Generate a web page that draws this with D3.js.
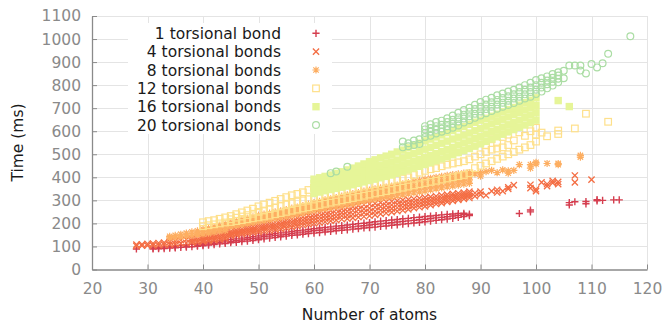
<!DOCTYPE html>
<html><head><meta charset="utf-8">
<script src="https://cdn.jsdelivr.net/npm/d3@7"></script>
<style>body{margin:0;background:#fff}svg{display:block;font-family:"DejaVu Sans",sans-serif}</style>
</head><body><svg width="665" height="325"></svg>
<script>
const xTicks = [20,30,40,50,60,70,80,90,100,110,120];
const yTicks = [0,100,200,300,400,500,600,700,800,900,1000,1100];
const seriesNames = ["1 torsional bond","4 torsional bonds","8 torsional bonds","12 torsional bonds","16 torsional bonds","20 torsional bonds"];
// rows: [atoms, time(ms), time(ms), ...]
const bond1 = [
[28,89],[31,89,93],[32,90,95],[33,91,97],[34,93,99],[35,94,101,97],[36,96,104],[37,97,106,101],[38,99,109],[39,101,112,105],
[40,103,115,108],[41,106,118,111],[42,108,121,114],[43,111,124,117],[44,113,127,120],[45,116,130,122],[46,118,133,125],[47,121,136,128],[48,123,139,131],[49,126,142,134],
[50,129,146,137],[51,133,150,142],[52,136,153,145],[53,139,156,148],[54,142,159,150],[55,145,162,153],[56,148,165,156],[57,150,168,159],[58,153,171,162],[59,156,174,165],
[60,158,177,168],[61,160,180,170],[62,163,182,172],[63,165,185,175],[64,168,188,178],[65,170,190,180],[66,172,193,183],[67,175,196,185],[68,177,199,188],[69,180,201,190],
[70,182,204,193],[71,184,207,196],[72,187,210,198],[73,189,212,201],[74,192,215,203],[75,194,217,206],[76,197,220,208],[77,199,222,211],[78,202,225,213],[79,204,227,216],
[80,207,230,218],[81,210,232,221],[82,213,234,224],[83,216,237,226],[84,219,239,229],[85,222,241,232],[86,226,243,235],[87,230,244,238],[88,234,240],
[97,243],[99,250,258],[106,280,290],[107,294],[109,285,295],[111,298,303],[112,300],[114,302],[115,302]
];
const bond4 = [
[28,102,108],[29,103,109],[30,104,111],[31,105,113],[32,106,115],[33,108,117],[34,109,120],[35,111,123],[36,113,127],[37,115,130],
[38,117,134,125],[39,119,138,128],[40,121,128,135,142],[41,124,131,139,146],[42,127,135,143,151],[43,130,139,147,156],[44,134,143,152,161],
[45,146,152,159,166],[46,150,156,163,171],[47,153,160,167,176],[48,156,164,172,181],[49,160,168,176,186],[50,163,172,182,192],[51,166,176,185,196],
[52,169,179,189,200],[53,173,183,193,205],[54,176,187,197,209],[55,180,191,201,213],[56,184,195,206,218],[57,188,199,210,223],[58,192,203,215,228],
[59,196,208,220,234],[60,200,213,226,240],[61,203,217,230,245],[62,207,221,235,250],[63,211,225,240,255],[64,214,229,243,259],[65,218,233,247,263],
[66,221,236,252,268],[67,224,240,256,272],[68,227,243,260,277],[69,230,247,263,281],[70,233,250,266,284],[71,237,253,270,287],[72,241,257,273,290],
[73,245,261,277,293],[74,249,264,280,296],[75,253,268,283,298],[76,257,271,286,301],[77,261,275,289,303],[78,266,279,292,306],[79,270,283,295,309],
[80,274,287,299,312],[81,279,291,302,315],[82,284,295,306,318],[83,288,299,310,322],[84,293,303,314,325],[85,298,308,318,328],[86,302,312,321,331],
[87,306,316,325,334],[88,310,319,328,338],
[89,318,332],[90,325,338],[91,322],[92,340],[93,334,346],[94,340],[95,350,357],[96,366],[99,353,368],[100,340,348],
[101,378],[102,362,371],[103,385,376],[104,380,370],[107,408,378],[110,390]
];
const bond8 = [
[34,137,144],[35,139,148],[36,142,153],[37,145,158],[38,148,163],[39,151,168,158],[40,154,175,164],[41,158,180,168],[42,162,186,173],[43,166,192,178],[44,170,198,184],
[45,186,192,198,204],[46,190,197,203,210],[47,194,201,209,216],[48,199,206,214,222],[49,203,211,220,228],[50,208,217,226,236],[51,212,221,231,240],
[52,216,226,235,245],[53,221,230,240,250],[54,225,235,245,255],[55,229,239,250,260],[56,234,245,255,266],[57,239,250,260,271],[58,244,255,266,277],
[59,250,261,273,284],[60,256,267,279,290],[61,260,272,284,296],[62,264,277,289,302],[63,268,281,294,307],[64,272,285,299,312],[65,276,290,304,318],
[66,280,295,309,324],[67,285,300,314,329],[68,290,305,319,334],[69,296,310,325,340],[70,301,315,330,345],[71,304,319,334,350],[72,308,323,338,354],
[73,312,327,342,358],[74,316,331,346,362],[75,320,335,350,366],[76,324,340,356,372],[77,328,344,360,377],[78,332,349,365,382],[79,336,353,370,387],
[80,340,357,374,392],[81,345,362,379,396],[82,350,366,383,400],[83,354,371,387,404],[84,358,375,391,408],[85,362,379,395,412],[86,366,382,398,415],
[87,370,386,402,418],[88,374,389,404,420],
[89,415],[90,420,405],[91,425],[92,430],[93,420],[94,432],[95,428,418],[96,430],[97,455],[99,455,440],[100,465,458],[102,460],[104,460,455],[108,488,495]
];
const bond12 = [
[40,188,205],[41,192,210],[42,196,214],[43,200,220],[44,204,226],[45,206,232,218],[46,210,240,225],[47,214,248,230],[48,218,256,236],[49,222,264,242],
[50,226,274,250],[51,230,282,256],[52,234,290,262],[53,240,298,268],[54,245,306,275],[55,250,314,282],[56,255,322,288],[57,260,328,295],[58,265,335,300],[59,270,345,305],
[60,275,355,312],[61,280,360,318],[62,285,365,325],[63,290,370,330],[64,295,375,335],[65,300,380,340],[66,305,386,345],[67,310,392,350],[68,315,397,356],[69,320,402,360],
[70,325,406,365],[71,330,410,370],[72,335,414,375],[73,340,418,380],[74,345,422,385],[75,350,428,390],[76,355,440,395],[77,360,450,400],[78,365,460,410],[79,370,470,420],
[80,375,480,428],[81,380,488,435],[82,385,495,440],[83,390,502,448],[84,395,510,455],[85,400,518,460],[86,405,525,465],[87,410,532,470],[88,418,538,478],[89,440,545,490],
[90,450,555,500],[91,460,540,510],[92,470,565,520],[93,480,550,525],[94,490,575,530],[95,500,585,540],[96,510,560],[97,520,595],[98,530,580],[99,540,600],
[100,555,615,585],[101,594],[102,578],[104,588,603],[107,612],[109,676],[113,641]
];
const bond16 = [
[60,330,352,372,392],[61,336,358,378,398],[62,342,364,384,404],[63,347,369,390,410],[64,352,374,396,417],[65,357,380,402,424],[66,362,386,410,432],[67,368,392,417,440],
[68,374,398,424,449],[69,380,405,432,458],[70,386,412,440,468],[71,392,418,446,476],[72,398,424,452,484],[73,404,430,460,492],[74,410,437,467,500],[75,418,445,475,510],
[76,425,454,484,518],[77,432,462,494,528],[78,440,470,503,538],[79,448,478,512,548],[80,456,487,522,558],[81,464,495,530,566],[82,472,503,539,575],[83,480,512,548,584],
[84,489,521,557,594],[85,498,530,566,603],[86,507,540,574,612],[87,516,549,583,620],[88,525,558,592,630],[89,535,568,602,639],[90,545,578,612,648],[91,556,588,622,656],
[92,566,598,632,665],[93,576,608,642,674],[94,587,618,652,684],[95,597,628,662,694],[96,607,638,672,703],[97,617,648,682,713],[98,627,660,692,724],[99,637,670,702,734],
[100,648,680,712,745],[104,733],[106,707]
];
const bond20 = [
[63,418],[64,425],[66,446],[76,530,555],[77,535,548],[78,540,560],[79,545,565],
[80,575,592,608,622],[81,580,598,614,630],[82,590,606,622,640],[83,598,612,628,646],[84,605,622,640,656],[85,615,632,650,668],[86,625,642,660,680],[87,638,655,672,692],
[88,648,665,684,702],[89,658,676,696,715],[90,668,686,706,727],[91,678,696,716,737],[92,688,706,726,745],[93,698,716,736,756],[94,706,724,744,764],[95,714,732,752,772],
[96,722,742,760,780],[97,732,750,770,790],[98,742,760,780,800],[99,750,770,790,810],[100,762,780,800,822],[101,772,790,810,830],[102,786,804,820,838],[103,798,815,832,848],
[104,812,828,842,856],[105,830,862],
[106,885],[107,885],[108,885,863],[109,851],[110,892],[111,877],[112,895],[113,936],[117,1012]
];
const seriesData = [bond1, bond4, bond8, bond12, bond16, bond20];
const colors = ["#d53e4f","#f46d43","#fdae61","#fee08b","#e6f598","#abdda4"];
const shapes = ["plus","cross","star","square","filled","circle"];

const svg = d3.select("svg");
const x = d3.scaleLinear().domain([20,120]).range([92,647]);
const y = d3.scaleLinear().domain([0,1100]).range([269.5,16]);
const fs = 15.5;

// grid
const grid = svg.append("g").attr("stroke","#e4e4e4").attr("stroke-width",1);
grid.selectAll("line.v").data(xTicks.slice(1)).join("line")
  .attr("x1",d=>Math.round(x(d))+0.5).attr("x2",d=>Math.round(x(d))+0.5).attr("y1",y(0)).attr("y2",y(1100));
grid.selectAll("line.h").data(yTicks.slice(1)).join("line")
  .attr("y1",d=>Math.round(y(d))+0.5).attr("y2",d=>Math.round(y(d))+0.5).attr("x1",x(20)).attr("x2",x(120));

function drawMarker(g, shape, color){
  const s = 3.6;
  if(shape==="plus") g.append("path").attr("d",`M${-s},0H${s}M0,${-s}V${s}`).attr("stroke",color).attr("stroke-width",1.4).attr("fill","none");
  else if(shape==="cross") g.append("path").attr("d",`M-3.1,-3.1L3.1,3.1M-3.1,3.1L3.1,-3.1`).attr("stroke",color).attr("stroke-width",1.3).attr("fill","none");
  else if(shape==="star") g.append("path").attr("d",`M${-s},0H${s}M0,${-s}V${s}M-2.7,-2.7L2.7,2.7M-2.7,2.7L2.7,-2.7`).attr("stroke",color).attr("stroke-width",1.2).attr("fill","none");
  else if(shape==="square") g.append("rect").attr("x",-3.3).attr("y",-3.3).attr("width",6.6).attr("height",6.6).attr("stroke",color).attr("stroke-width",1.2).attr("fill","none");
  else if(shape==="filled") g.append("rect").attr("x",-3.7).attr("y",-3.7).attr("width",7.4).attr("height",7.4).attr("fill",color);
  else g.append("circle").attr("r",3.4).attr("stroke",color).attr("stroke-width",1.2).attr("fill","none");
}

// points, drawn in series order
const pts = svg.append("g");
seriesData.forEach((rows,i)=>{
  const flat = rows.flatMap(r=>r.slice(1).map(v=>[r[0],v]));
  const g = pts.append("g");
  flat.forEach(p=>{
    const m = g.append("g").attr("transform",`translate(${x(p[0])},${y(p[1])})`);
    drawMarker(m, shapes[i], colors[i]);
  });
});

// legend
const leg = svg.append("g");
leg.append("rect").attr("x",128).attr("y",23).attr("width",204).attr("height",111).attr("fill","#fff");
seriesNames.forEach((n,i)=>{
  const cy = 33.3 + i*18.35;
  leg.append("text").attr("x",281).attr("y",cy+5.6).attr("text-anchor","end").attr("font-size",fs).attr("fill","#1a1a1a").text(n);
  const m = leg.append("g").attr("transform",`translate(316,${cy})`);
  drawMarker(m, shapes[i], colors[i]);
});

// axes
const axCol = "#8a8a8a";
const gx = svg.append("g").attr("transform",`translate(0,${y(0)})`)
  .call(d3.axisBottom(x).tickValues(xTicks).tickFormat(d3.format("d")).tickSize(-5).tickSizeOuter(0).tickPadding(13.5));
const gy = svg.append("g").attr("transform",`translate(${x(20)},0)`)
  .call(d3.axisLeft(y).tickValues(yTicks).tickFormat(d3.format("d")).tickSize(-5).tickSizeOuter(0).tickPadding(11));
[gx,gy].forEach(g=>{
  g.select(".domain").attr("stroke",axCol).attr("stroke-width",1.3);
  g.selectAll(".tick line").attr("stroke",axCol);
  g.selectAll("text").attr("fill",axCol).attr("font-size",fs).attr("font-family","DejaVu Sans");
});

svg.append("text").attr("transform","translate(23,142.5) rotate(-90)").attr("text-anchor","middle")
  .attr("font-size",fs).attr("fill","#1a1a1a").text("Time (ms)");
svg.append("text").attr("x",369.5).attr("y",320).attr("text-anchor","middle")
  .attr("font-size",fs).attr("fill","#1a1a1a").text("Number of atoms");
</script></body></html>
